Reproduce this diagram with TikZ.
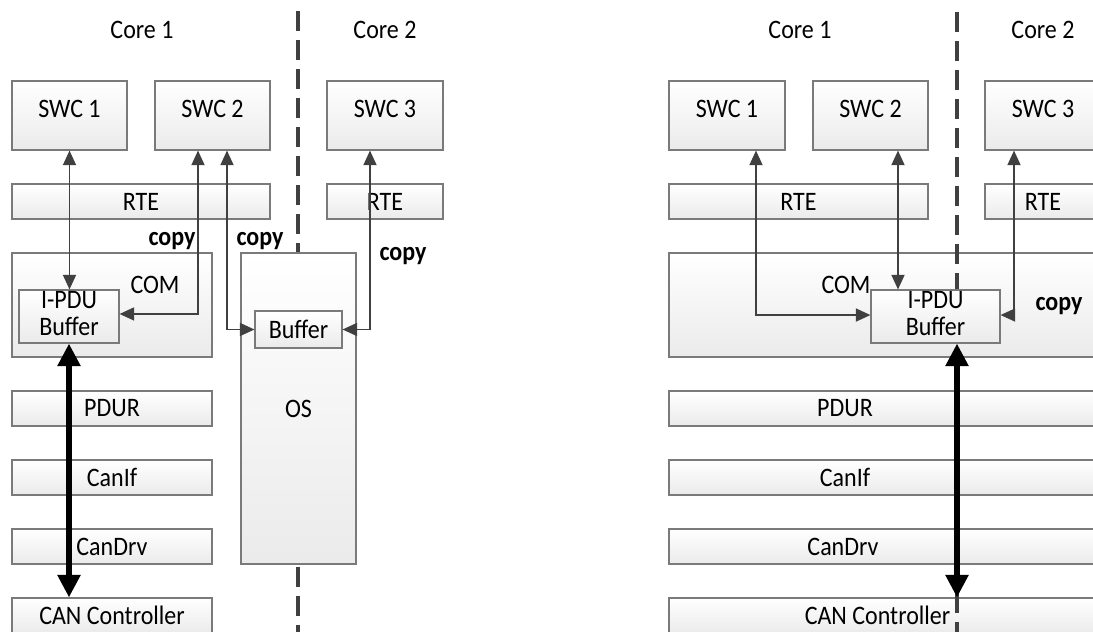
\documentclass[tikz,border=0pt]{standalone}
\usepackage{fontspec}
\setmainfont{Carlito}[FakeStretch=0.9]
\usetikzlibrary{arrows.meta}
\newdimen\pxu \pxu=0.75pt
\definecolor{edgegray}{HTML}{7A7A7A}
\definecolor{linkgray}{HTML}{404040}
\begin{document}
\begin{tikzpicture}[x=0.75pt,y=-0.75pt,
  font=\fontsize{20pt}{20.5pt}\selectfont,
  box/.style={draw=edgegray, line width=0.8pt, top color=white, bottom color=black!8,
    inner sep=0pt, align=center},
  wh/.style 2 args={minimum width=#1\pxu, minimum height=#2\pxu},
  swcbox/.style={box, wh={115}{69}, text depth=9.75pt},
  layerbox/.style={box, minimum height=35\pxu},
  txt/.style={anchor=base, inner sep=0pt},
  copytxt/.style={anchor=base, inner sep=0pt, font=\fontsize{20pt}{20.5pt}\selectfont\bfseries},
  link/.style={draw=linkgray, line width=1.35pt,
    {Triangle[length=11pt,width=9.75pt]}-{Triangle[length=11pt,width=9.75pt]}},
  bus/.style={draw=black, line width=4.5pt,
    {Triangle[length=17pt,width=16.5pt]}-{Triangle[length=17pt,width=16.5pt]}},
  divider/.style={draw=linkgray, line width=2.4pt, dash pattern=on 15pt off 6.75pt}]
\useasboundingbox (0,0) rectangle (1093,632);
\clip (0,0) rectangle (1093,632);

% ---------------- left: buffer held by the OS ----------------
\node[txt] (coreAl) at (142,38) {Core 1};
\node[txt] (coreBl) at (385,38) {Core 2};

\node[swcbox] (swc1) at (69.5,115.5) {SWC 1};
\node[swcbox] (swc2) at (212.5,115.5) {SWC 2};
\node[swcbox, minimum width=116\pxu] (swc3) at (385,115.5) {SWC 3};

\node[layerbox, minimum width=258\pxu] (rte1) at (141,201.5) {RTE};
\node[layerbox, minimum width=116\pxu] (rte2) at (385,201.5) {RTE};

\node[box, wh={200}{104}] (com1) at (112,305) {};
\node[txt] (comlab1) at (155,293) {COM};
\node[box, wh={100}{53}, text depth=4.5pt] (ipdu1) at (69,316.5) {I-PDU\\Buffer};

\node[box, wh={115}{311}] (os) at (298.5,408.5) {OS};
\node[box, wh={87}{37}] (buf) at (298.5,329.5) {Buffer};

\node[layerbox, minimum width=200\pxu] (pdur1) at (112,408.5) {PDUR};
\node[layerbox, minimum width=200\pxu] (canif1) at (112,477.5) {CanIf};
\node[layerbox, minimum width=200\pxu] (candrv1) at (112,546.5) {CanDrv};
\node[layerbox, minimum width=200\pxu] (canc1) at (112,615.5) {CAN Controller};

\coordinate (d1top) at (298,11);
\coordinate (d1bot) at (298,640);
\draw[divider] (d1top) -- (d1top |- os.north);
\draw[divider] ([yshift=-1.5pt]d1top |- os.south) -- (d1bot);

\draw[link] (swc1.south) -- (swc1.south |- ipdu1.north);
\draw[link] ([xshift=-14.5\pxu]swc2.south) |- ([yshift=1.9pt]ipdu1.east);
\draw[link] ([xshift=14.5\pxu]swc2.south) |- (buf.west);
\draw[link] ([xshift=-15\pxu]swc3.south) |- (buf.east);
\draw[bus] (ipdu1.south) -- (ipdu1.south |- canc1.north);

\node[copytxt] (copyA) at (172,245) {copy};
\node[copytxt] (copyB) at (260,245) {copy};
\node[copytxt] (copyC) at (403,260) {copy};

% ---------------- right: one shared I-PDU buffer ----------------
\node[txt] (coreAr) at (800,38) {Core 1};
\node[txt] (coreBr) at (1043,38) {Core 2};

\node[swcbox, minimum width=116\pxu] (swc1r) at (727,115.5) {SWC 1};
\node[swcbox] (swc2r) at (870.5,115.5) {SWC 2};
\node[swcbox, minimum width=116\pxu] (swc3r) at (1043,115.5) {SWC 3};

\node[layerbox, minimum width=259\pxu] (rte1r) at (798.5,201.5) {RTE};
\node[layerbox, minimum width=116\pxu] (rte2r) at (1043,201.5) {RTE};

\node[box, wh={441}{104}] (comr) at (889.5,305) {};
\node[txt] (comlabr) at (846,293) {COM};
\node[box, wh={129}{53}, text depth=4.5pt] (ipdur) at (935.5,316.5) {I-PDU\\Buffer};

\node[layerbox, minimum width=441\pxu] (pdurr) at (889.5,408.5) {};
\node[layerbox, minimum width=441\pxu] (canifr) at (889.5,477.5) {};
\node[layerbox, minimum width=441\pxu] (candrvr) at (889.5,546.5) {};
\node[layerbox, minimum width=441\pxu] (cancr) at (889.5,615.5) {};
\node (pdurlab) at (845,408.5) {PDUR};
\node (caniflab) at (845,477.5) {CanIf};
\node (candrvlab) at (843,546.5) {CanDrv};
\node (canclab) at (877.5,615.5) {CAN Controller};

\coordinate (d2top) at (957,12);
\coordinate (d2bot) at (957,640);
\draw[divider] (d2top) -- (d2top |- ipdur.north);
\draw[divider] ([yshift=3pt]d2top |- cancr.north) -- (d2bot);

\draw[link] ([xshift=29\pxu]swc1r.south) |- ([yshift=1.1pt]ipdur.west);
\draw[link] ([xshift=27.5\pxu]swc2r.south) -- ([xshift=27.5\pxu]swc2r.south |- ipdur.north);
\draw[link] ([xshift=-29\pxu]swc3r.south) |- ([yshift=1.1pt]ipdur.east);
\draw[bus] ([xshift=21.5\pxu]ipdur.south) -- ([xshift=21.5\pxu]ipdur.south |- cancr.north);

\node[copytxt] (copyR) at (1059,310) {copy};
\end{tikzpicture}
\end{document}
